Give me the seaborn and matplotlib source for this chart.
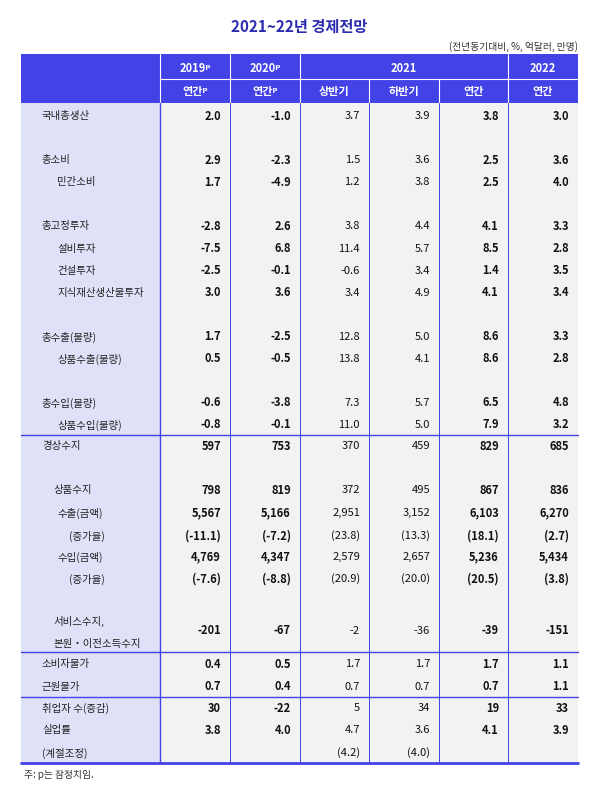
import matplotlib
matplotlib.use("Agg")
import matplotlib.pyplot as plt
import seaborn as sns
from matplotlib.patches import Rectangle

sns.set_theme(style="white")
plt.rcParams['font.family'] = ['Noto Sans CJK KR', 'DejaVu Sans']

title = "2021~22년 경제전망"
unit_note = "(전년동기대비, %, 억달러, 만명)"
years = ["2019ᵖ", "2020ᵖ", "2021", "2022"]
subheads = ["연간ᵖ", "연간ᵖ", "상반기", "하반기", "연간", "연간"]

labels = ["국내총생산", "총소비", "민간소비", "총고정투자", "설비투자", "건설투자", "지식재산생산물투자",
          "총수출(물량)", "상품수출(물량)", "총수입(물량)", "상품수입(물량)",
          "경상수지", "상품수지", "수출(금액)", "(증가율)", "수입(금액)", "(증가율)",
          "서비스수지,\n본원・이전소득수지", "소비자물가", "근원물가", "취업자 수(증감)", "실업률", "(계절조정)"]
label_indent = [0, 0, 1, 0, 1, 1, 1, 0, 1, 0, 1, 0, 4, 1, 3, 1, 3, 4, 0, 0, 0, 0, 0]
col_2019 = ["2.0", "2.9", "1.7", "-2.8", "-7.5", "-2.5", "3.0", "1.7", "0.5", "-0.6", "-0.8",
            "597", "798", "5,567", "(-11.1)", "4,769", "(-7.6)", "-201", "0.4", "0.7", "30", "3.8", ""]
col_2020 = ["-1.0", "-2.3", "-4.9", "2.6", "6.8", "-0.1", "3.6", "-2.5", "-0.5", "-3.8", "-0.1",
            "753", "819", "5,166", "(-7.2)", "4,347", "(-8.8)", "-67", "0.5", "0.4", "-22", "4.0", ""]
col_2021h1 = ["3.7", "1.5", "1.2", "3.8", "11.4", "-0.6", "3.4", "12.8", "13.8", "7.3", "11.0",
              "370", "372", "2,951", "(23.8)", "2,579", "(20.9)", "-2", "1.7", "0.7", "5", "4.7", "(4.2)"]
col_2021h2 = ["3.9", "3.6", "3.8", "4.4", "5.7", "3.4", "4.9", "5.0", "4.1", "5.7", "5.0",
              "459", "495", "3,152", "(13.3)", "2,657", "(20.0)", "-36", "1.7", "0.7", "34", "3.6", "(4.0)"]
col_2021 = ["3.8", "2.5", "2.5", "4.1", "8.5", "1.4", "4.1", "8.6", "8.6", "6.5", "7.9",
            "829", "867", "6,103", "(18.1)", "5,236", "(20.5)", "-39", "1.7", "0.7", "19", "4.1", ""]
col_2022 = ["3.0", "3.6", "4.0", "3.3", "2.8", "3.5", "3.4", "3.3", "2.8", "4.8", "3.2",
            "685", "836", "6,270", "(2.7)", "5,434", "(3.8)", "-151", "1.1", "1.1", "33", "3.9", ""]
columns = [col_2019, col_2020, col_2021h1, col_2021h2, col_2021, col_2022]
bold_cols = [True, True, False, False, True, True]

row_y = [116, 160, 182, 226, 249, 271, 293, 337, 359, 403, 425,
         446, 490, 513, 536, 557, 579, 631, 664, 687, 708, 730, 753]
xb = [21, 160, 230, 300, 369, 439, 508, 578]
BLUE = "#4242E6"

fig = plt.figure(figsize=(5.98, 7.92), dpi=100)
ax = fig.add_axes([0, 0, 1, 1])
ax.set_xlim(0, 598)
ax.set_ylim(792, 0)
ax.axis("off")

ax.text(299, 27, title, ha="center", va="center", fontsize=11, fontweight="bold", color="#2B2BB0")
ax.text(578, 47, unit_note, ha="right", va="center", fontsize=7, color="#333333")

ax.add_patch(Rectangle((21, 54), 557, 49, color=BLUE, lw=0))
ax.add_patch(Rectangle((21, 103), 139, 660, color="#DEE1F7", lw=0))
ax.add_patch(Rectangle((160, 103), 418, 660, color="#F2F2F2", lw=0))

hdr_spans = [(160, 230), (230, 300), (300, 508), (508, 578)]
for (a, b), t in zip(hdr_spans, years):
    ax.text((a + b) / 2, 68, t, ha="center", va="center", fontsize=8, fontweight="bold", color="white")
for i, t in enumerate(subheads):
    ax.text((xb[i + 1] + xb[i + 2]) / 2, 92, t, ha="center", va="center", fontsize=8,
            fontweight="bold", color="white")
ax.plot([160, 578], [79, 79], color="white", lw=0.8)
for x in [160, 230, 300, 508]:
    ax.plot([x, x], [54, 103], color="white", lw=0.8)
for x in [369, 439]:
    ax.plot([x, x], [79, 103], color="white", lw=0.8)

for x in xb[1:-1]:
    ax.plot([x, x], [103, 763], color=BLUE, lw=0.7)
ax.plot([160, 160], [103, 763], color=BLUE, lw=1.0)
for y in [435, 652, 697]:
    ax.plot([21, 578], [y, y], color=BLUE, lw=1.0)
ax.plot([21, 578], [763, 763], color=BLUE, lw=2)

indent_x = [42, 57, 57, 69, 53]
for lab, ind, y in zip(labels, label_indent, row_y):
    x = indent_x[ind]
    if "\n" in lab:
        l1, l2 = lab.split("\n")
        ax.text(x, 621, l1, ha="left", va="center", fontsize=7.5, color="#222222")
        ax.text(x, 644, l2, ha="left", va="center", fontsize=7.5, color="#222222")
    else:
        ax.text(x, y, lab, ha="left", va="center", fontsize=7.5, color="#222222")

for j, (col, bold) in enumerate(zip(columns, bold_cols)):
    xr = xb[j + 2] - 9
    for v, y in zip(col, row_y):
        if v:
            ax.text(xr, y, v, ha="right", va="center", fontsize=8,
                    fontweight="bold" if bold else "normal", color="#111111")

ax.text(24, 775, "주: p는 잠정치임.", ha="left", va="center", fontsize=7, color="#333333")

fig.savefig("out.png", dpi=100)
